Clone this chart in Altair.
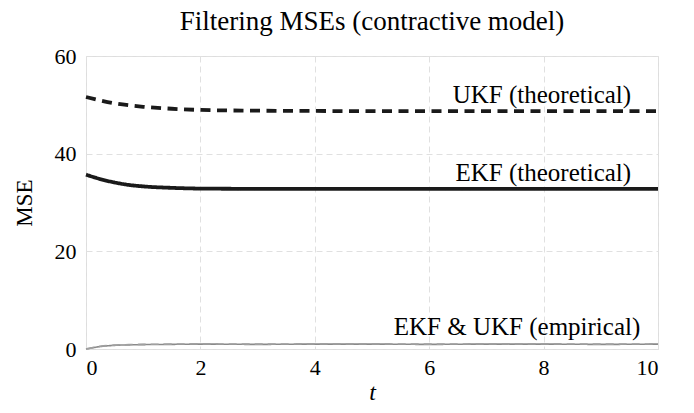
import altair as alt
import pandas as pd

# Theoretical curves
t_theo = [0, 0.25, 0.5, 0.75, 1, 1.5, 2, 3, 4, 5, 6, 7, 8, 9, 10]
ukf_theo = [51.6, 50.9, 50.3, 49.9, 49.6, 49.2, 48.95, 48.8, 48.75, 48.7, 48.7, 48.7, 48.7, 48.7, 48.7]
ekf_theo = [35.7, 34.8, 34.1, 33.6, 33.3, 33.0, 32.85, 32.8, 32.8, 32.8, 32.8, 32.8, 32.8, 32.8, 32.8]

# Empirical curves
t_emp = [0, 0.25, 0.5, 0.75, 1, 1.5, 2, 3, 4, 5, 6, 7, 8, 9, 10]
ekf_emp = [0.0, 0.5, 0.75, 0.85, 0.9, 0.95, 1.0, 0.95, 1.0, 1.0, 0.95, 1.0, 1.0, 0.95, 1.0]
ukf_emp = [0.0, 0.55, 0.8, 0.9, 0.95, 1.0, 1.05, 1.0, 1.05, 1.05, 1.0, 1.05, 1.05, 1.0, 1.05]

# Annotations (data coordinates)
ann_text = ["UKF (theoretical)", "EKF (theoretical)", "EKF & UKF (empirical)"]
ann_t = [9.53, 9.53, 9.69]
ann_y = [50.4, 34.5, 2.9]

x_ticks = [0, 2, 4, 6, 8, 10]
y_ticks = [0, 20, 40, 60]

FONT = "Liberation Serif"

theo = pd.DataFrame({
    "t": t_theo * 2,
    "mse": ukf_theo + ekf_theo,
    "series": ["UKF (theoretical)"] * len(t_theo) + ["EKF (theoretical)"] * len(t_theo),
})
emp = pd.DataFrame({
    "t": t_emp * 2,
    "mse": ekf_emp + ukf_emp,
    "series": ["EKF (empirical)"] * len(t_emp) + ["UKF (empirical)"] * len(t_emp),
})
ann = pd.DataFrame({"t": ann_t, "mse": ann_y, "label": ann_text})

xscale = alt.Scale(domain=[0, 10], nice=False, zero=False)
yscale = alt.Scale(domain=[0, 60], nice=False)

xax = alt.Axis(values=x_ticks, title="t", titleFont=FONT, titleFontStyle="italic",
               titleFontWeight="normal", titleFontSize=24, titleColor="black",
               labelFont=FONT, labelFontSize=22, labelColor="black", labelPadding=8,
               ticks=False, domain=False, grid=True, gridDash=[6, 4],
               gridColor="#e0e0e0", gridWidth=1, titlePadding=2, format="d")
yax = alt.Axis(values=y_ticks, title="MSE", titleFont=FONT, titleFontWeight="normal",
               titleFontSize=23, titleColor="black", labelFont=FONT, labelFontSize=22,
               labelColor="black", labelPadding=10, ticks=False, domain=False, grid=True,
               gridDash=[6, 4], gridColor="#e0e0e0", gridWidth=1, titlePadding=18, format="d")

lines_theo = alt.Chart(theo).mark_line(interpolate="monotone", strokeWidth=3.8).encode(
    x=alt.X("t:Q", scale=xscale, axis=xax),
    y=alt.Y("mse:Q", scale=yscale, axis=yax),
    detail="series:N",
    color=alt.Color("series:N", scale=alt.Scale(
        domain=["UKF (theoretical)", "EKF (theoretical)"], range=["#1a1a1a", "#1a1a1a"]), legend=None),
    strokeDash=alt.StrokeDash("series:N", scale=alt.Scale(
        domain=["UKF (theoretical)", "EKF (theoretical)"], range=[[10, 6.5], [1, 0]]), legend=None),
)

lines_emp = alt.Chart(emp).mark_line(interpolate="monotone", strokeWidth=1.6).encode(
    x="t:Q",
    y="mse:Q",
    detail="series:N",
    color=alt.Color("series:N", scale=alt.Scale(
        domain=["EKF (empirical)", "UKF (empirical)"], range=["#8a8a8a", "#a0a0a0"]), legend=None),
    strokeDash=alt.StrokeDash("series:N", scale=alt.Scale(
        domain=["EKF (empirical)", "UKF (empirical)"], range=[[1, 0], [8, 5]]), legend=None),
)

texts = alt.Chart(ann).mark_text(align="right", baseline="alphabetic", font=FONT,
                                 fontSize=25, color="black").encode(
    x="t:Q", y="mse:Q", text="label:N")

chart = alt.layer(lines_theo, lines_emp, texts).resolve_scale(
    color="independent", strokeDash="independent"
).properties(
    width=572, height=293,
    title=alt.TitleParams("Filtering MSEs (contractive model)", font=FONT, fontSize=27,
                          fontWeight="normal", color="black", anchor="middle",
                          frame="group", baseline="alphabetic", offset=-12),
    autosize=alt.AutoSizeParams(type="none"),
    padding={"left": 78, "top": 48, "right": 20, "bottom": 56},
).configure_view(stroke="#1a1a1a", strokeWidth=1.4).configure(background="white")

chart.save("out.html", embed_options={"renderer": "svg", "actions": False})
